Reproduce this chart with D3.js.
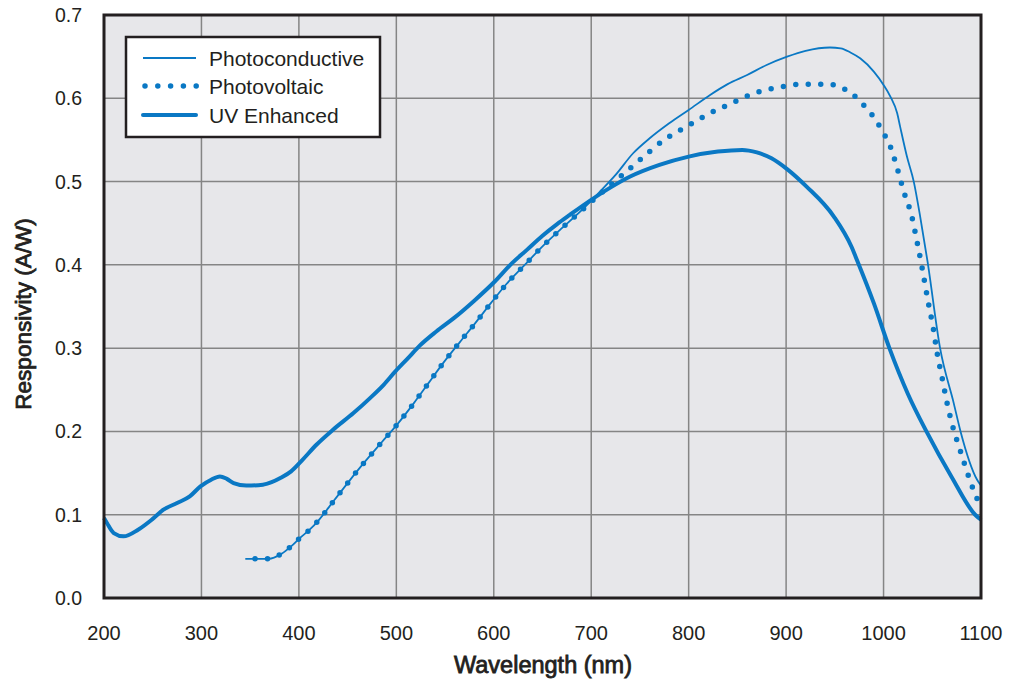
<!DOCTYPE html>
<html>
<head>
<meta charset="utf-8">
<script src="https://cdn.jsdelivr.net/npm/d3@7"></script>
<style>
  body { margin: 0; background: #fff; }
  text { font-family: "Liberation Sans", Arial, Helvetica, sans-serif; }
</style>
</head>
<body>
<div id="chart"></div>
<script>
// 数据：波长(nm) 与 响应度(A/W)
const uvWave = [200, 203, 210, 220, 235, 250, 261, 275, 288, 299, 310, 319, 326, 333, 346, 363, 372, 381, 392, 403, 418, 435, 456, 473, 487, 499, 512, 524, 541, 559, 580, 601, 617, 634, 650, 665, 678, 700, 720, 740, 770, 800, 830, 855, 870, 885, 901, 921, 949, 967, 973, 990, 1006, 1025, 1044, 1070, 1094, 1100];
const uvResp = [0.096, 0.090, 0.078, 0.074, 0.082, 0.095, 0.106, 0.114, 0.122, 0.134, 0.142, 0.146, 0.143, 0.138, 0.135, 0.136, 0.139, 0.144, 0.152, 0.165, 0.184, 0.202, 0.222, 0.240, 0.256, 0.272, 0.288, 0.303, 0.320, 0.336, 0.357, 0.380, 0.400, 0.418, 0.435, 0.449, 0.460, 0.478, 0.493, 0.506, 0.520, 0.530, 0.536, 0.538, 0.535, 0.528, 0.515, 0.494, 0.458, 0.422, 0.405, 0.354, 0.300, 0.245, 0.200, 0.145, 0.100, 0.094];

const pvWave = [355, 369, 382, 392, 401, 411, 420, 436, 452, 468, 485, 502, 518, 533, 548, 565, 581, 597, 613, 631, 649, 668, 687, 706, 726, 746, 776, 798, 820, 844, 867, 892, 918, 944, 956, 968, 977, 993, 1000, 1006, 1014, 1021, 1029, 1034, 1039, 1046, 1051, 1055, 1060, 1065, 1071, 1079, 1087, 1096, 1100];
const pvResp = [0.047, 0.047, 0.053, 0.062, 0.072, 0.082, 0.093, 0.117, 0.141, 0.164, 0.187, 0.210, 0.234, 0.258, 0.282, 0.307, 0.330, 0.354, 0.377, 0.399, 0.421, 0.442, 0.462, 0.482, 0.502, 0.522, 0.551, 0.566, 0.581, 0.594, 0.606, 0.613, 0.617, 0.617, 0.613, 0.605, 0.595, 0.572, 0.558, 0.545, 0.516, 0.487, 0.458, 0.430, 0.400, 0.354, 0.324, 0.294, 0.265, 0.235, 0.206, 0.176, 0.147, 0.119, 0.110];

const pcWave = [345, 355, 369, 382, 392, 401, 411, 420, 436, 452, 468, 485, 502, 518, 533, 548, 565, 581, 597, 613, 631, 649, 668, 687, 709, 725, 743, 760, 780, 800, 822, 840, 860, 880, 901, 920, 945, 956, 966, 976, 990, 1000, 1007, 1014, 1017, 1024, 1031, 1038, 1045, 1058, 1072, 1079, 1096, 1100];
const pcResp = [0.047, 0.047, 0.047, 0.053, 0.062, 0.072, 0.082, 0.093, 0.117, 0.141, 0.164, 0.187, 0.210, 0.234, 0.258, 0.282, 0.307, 0.330, 0.354, 0.377, 0.399, 0.421, 0.442, 0.462, 0.488, 0.508, 0.534, 0.552, 0.570, 0.586, 0.604, 0.617, 0.628, 0.640, 0.650, 0.657, 0.661, 0.660, 0.655, 0.648, 0.632, 0.616, 0.602, 0.582, 0.566, 0.530, 0.500, 0.455, 0.405, 0.300, 0.234, 0.200, 0.142, 0.135];

const xTicks = [200, 300, 400, 500, 600, 700, 800, 900, 1000, 1100];
const yTicks = [0.0, 0.1, 0.2, 0.3, 0.4, 0.5, 0.6, 0.7];
const seriesNames = ['Photoconductive', 'Photovoltaic', 'UV Enhanced'];

const width = 1019, height = 681;
const margin = { top: 15, right: 38, bottom: 83, left: 104 };
const blue = '#0a78c4';
const ink = '#231f20';

const svg = d3.select('#chart').append('svg')
    .attr('width', width)
    .attr('height', height);

const x = d3.scaleLinear().domain([200, 1100]).range([margin.left, width - margin.right]);
const y = d3.scaleLinear().domain([0, 0.7]).range([height - margin.bottom, margin.top]);

// 背景
svg.append('rect')
    .attr('x', x(200)).attr('y', y(0.7))
    .attr('width', x(1100) - x(200)).attr('height', y(0) - y(0.7))
    .attr('fill', '#e7e7ea');

// 网格
svg.append('g').selectAll('line').data(xTicks).enter().append('line')
    .attr('x1', d => x(d)).attr('x2', d => x(d))
    .attr('y1', y(0)).attr('y2', y(0.7))
    .attr('stroke', '#858585').attr('stroke-width', 1.5);
svg.append('g').selectAll('line').data(yTicks).enter().append('line')
    .attr('x1', x(200)).attr('x2', x(1100))
    .attr('y1', d => y(d)).attr('y2', d => y(d))
    .attr('stroke', '#858585').attr('stroke-width', 1.5);

// 曲线
const line = d3.line()
    .x(d => x(d[0]))
    .y(d => y(d[1]))
    .curve(d3.curveMonotoneX);

const zip = (a, b) => a.map((v, i) => [v, b[i]]);

const plot = svg.append('g');
plot.append('path')
    .datum(zip(uvWave, uvResp))
    .attr('d', line)
    .attr('fill', 'none').attr('stroke', blue).attr('stroke-width', 4)
    .attr('stroke-linejoin', 'round');
plot.append('path')
    .datum(zip(pvWave, pvResp))
    .attr('d', line)
    .attr('fill', 'none').attr('stroke', blue).attr('stroke-width', 5.5)
    .attr('stroke-dasharray', '0,12.5').attr('stroke-linecap', 'round');
plot.append('path')
    .datum(zip(pcWave, pcResp))
    .attr('d', line)
    .attr('fill', 'none').attr('stroke', blue).attr('stroke-width', 1.8)
    .attr('stroke-linejoin', 'round');

// 边框
svg.append('rect')
    .attr('x', x(200)).attr('y', y(0.7))
    .attr('width', x(1100) - x(200)).attr('height', y(0) - y(0.7))
    .attr('fill', 'none').attr('stroke', ink).attr('stroke-width', 3);

// 刻度标签
svg.append('g').selectAll('text').data(xTicks).enter().append('text')
    .attr('x', d => x(d)).attr('y', 640)
    .attr('text-anchor', 'middle')
    .attr('font-size', '20px').attr('fill', ink)
    .text(d => d);
svg.append('g').selectAll('text').data(yTicks).enter().append('text')
    .attr('x', 82).attr('y', d => y(d))
    .attr('text-anchor', 'end').attr('dominant-baseline', 'central')
    .attr('font-size', '19.5px').attr('fill', ink)
    .text(d => d.toFixed(1));

// 坐标轴标题
svg.append('text')
    .attr('x', 543).attr('y', 673)
    .attr('text-anchor', 'middle')
    .attr('font-size', '23.5px').attr('fill', ink)
    .attr('stroke', ink).attr('stroke-width', 0.8)
    .text('Wavelength (nm)');
svg.append('text')
    .attr('transform', 'translate(31,314) rotate(-90)')
    .attr('text-anchor', 'middle')
    .attr('font-size', '22.5px').attr('fill', ink)
    .attr('stroke', ink).attr('stroke-width', 0.8)
    .text('Responsivity (A/W)');

// 图例
const lg = svg.append('g');
lg.append('rect')
    .attr('x', 126).attr('y', 37).attr('width', 254).attr('height', 100)
    .attr('fill', '#fff').attr('stroke', ink).attr('stroke-width', 2.5);
const rowY = [58, 86, 115];
const styles = [
    { w: 1.8, dash: null, cap: 'butt' },
    { w: 5.5, dash: '0,12.8', cap: 'round' },
    { w: 4, dash: null, cap: 'round' }
];
seriesNames.forEach((name, i) => {
    lg.append('line')
        .attr('x1', i === 1 ? 145 : 143).attr('x2', i === 1 ? 197 : 196)
        .attr('y1', rowY[i]).attr('y2', rowY[i])
        .attr('stroke', blue).attr('stroke-width', styles[i].w)
        .attr('stroke-dasharray', styles[i].dash)
        .attr('stroke-linecap', styles[i].cap);
    lg.append('text')
        .attr('x', 209).attr('y', rowY[i])
        .attr('dominant-baseline', 'central')
        .attr('font-size', '21px').attr('fill', ink)
        .text(name);
});
</script>
</body>
</html>
